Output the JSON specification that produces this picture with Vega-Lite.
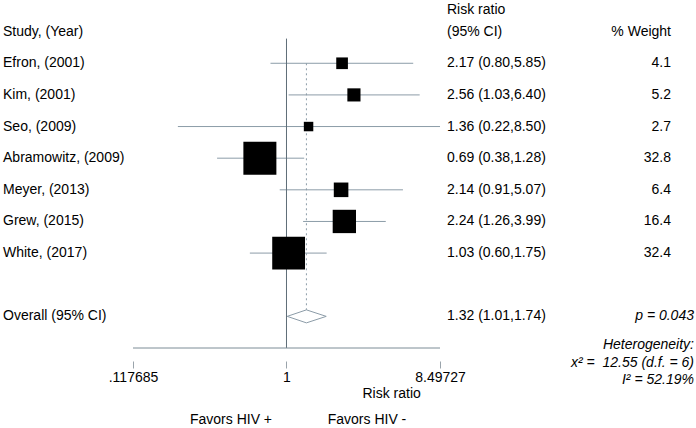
{
  "$schema": "https://vega.github.io/schema/vega-lite/v6.json",
  "width": 307,
  "height": 348,
  "autosize": {"type": "none"},
  "padding": {"left": 133, "top": 0, "right": 256, "bottom": 80},
  "background": "white",
  "data": {"values": [{}]},
  "config": {
    "view": {"stroke": null},
    "font": "Liberation Sans",
    "text": {"font": "Liberation Sans", "fontSize": 14, "color": "#000000", "baseline": "middle"}
  },
  "datasets": {
    "studies": [
      {"row": 1, "study": "Efron, (2001)", "rr": 2.17, "lo": 0.80, "hi": 5.85, "ci": "2.17 (0.80,5.85)", "weight": 4.1},
      {"row": 2, "study": "Kim, (2001)", "rr": 2.56, "lo": 1.03, "hi": 6.40, "ci": "2.56 (1.03,6.40)", "weight": 5.2},
      {"row": 3, "study": "Seo, (2009)", "rr": 1.36, "lo": 0.22, "hi": 8.50, "ci": "1.36 (0.22,8.50)", "weight": 2.7},
      {"row": 4, "study": "Abramowitz, (2009)", "rr": 0.69, "lo": 0.38, "hi": 1.28, "ci": "0.69 (0.38,1.28)", "weight": 32.8},
      {"row": 5, "study": "Meyer, (2013)", "rr": 2.14, "lo": 0.91, "hi": 5.07, "ci": "2.14 (0.91,5.07)", "weight": 6.4},
      {"row": 6, "study": "Grew, (2015)", "rr": 2.24, "lo": 1.26, "hi": 3.99, "ci": "2.24 (1.26,3.99)", "weight": 16.4},
      {"row": 7, "study": "White, (2017)", "rr": 1.03, "lo": 0.60, "hi": 1.75, "ci": "1.03 (0.60,1.75)", "weight": 32.4}
    ],
    "overall": [
      {"row": 9, "study": "Overall (95% CI)", "rr": 1.32, "lo": 1.01, "hi": 1.74, "ci": "1.32 (1.01,1.74)"}
    ],
    "diamond": [
      {"i": 0, "x": 1.01, "v": 0},
      {"i": 1, "x": 1.32, "v": -1},
      {"i": 2, "x": 1.74, "v": 0},
      {"i": 3, "x": 1.32, "v": 1},
      {"i": 4, "x": 1.01, "v": 0}
    ]
  },
  "layer": [
    {
      "data": {"name": "studies"},
      "mark": {"type": "rule", "color": "#8c9ca8", "strokeWidth": 1},
      "encoding": {
        "x": {
          "field": "lo", "type": "quantitative",
          "scale": {"type": "log", "domain": [0.117685, 8.49727], "nice": false},
          "axis": {
            "orient": "bottom", "offset": 13, "domain": false, "grid": false,
            "values": [0.117685, 1, 8.49727],
            "labelExpr": "datum.value < 0.5 ? '.117685' : (datum.value > 2 ? '8.49727' : '1')",
            "labelFlush": false, "labelOverlap": false,
            "tickSize": 7, "tickColor": "#9aa4ab", "tickWidth": 1,
            "labelFont": "Liberation Sans", "labelFontSize": 14, "labelColor": "#000000", "labelPadding": 2,
            "title": "Risk ratio", "titleFont": "Liberation Sans", "titleFontSize": 14, "titleFontWeight": "normal",
            "titleColor": "#000000", "titleAlign": "left", "titleBaseline": "middle", "titleX": 229, "titleY": 32
          }
        },
        "x2": {"field": "hi"},
        "y": {"field": "row", "type": "quantitative", "scale": {"domain": [-1, 10], "reverse": true, "nice": false, "zero": false}, "axis": null}
      }
    },
    {
      "mark": {"type": "rule", "color": "#5f6e78", "strokeWidth": 1},
      "encoding": {"x": {"datum": 1}, "y": {"datum": 0.22}, "y2": {"datum": 10}}
    },
    {
      "mark": {"type": "rule", "color": "#7d8c96", "strokeWidth": 1},
      "encoding": {"x": {"datum": 0.117685}, "x2": {"datum": 8.49727}, "y": {"datum": 10}}
    },
    {
      "data": {"name": "overall"},
      "mark": {"type": "rule", "color": "#8c9ca8", "strokeWidth": 1, "strokeDash": [2, 3]},
      "encoding": {"x": {"field": "rr", "type": "quantitative"}, "y": {"datum": 1}, "y2": {"datum": 9}}
    },
    {
      "data": {"name": "studies"},
      "mark": {"type": "point", "shape": "square", "filled": true, "color": "#000000", "opacity": 1, "strokeWidth": 0},
      "encoding": {
        "x": {"field": "rr", "type": "quantitative"},
        "y": {"field": "row", "type": "quantitative"},
        "size": {"field": "weight", "type": "quantitative", "scale": {"type": "linear", "domain": [0, 32.8], "range": [0, 1089]}, "legend": null}
      }
    },
    {
      "data": {"name": "diamond"},
      "mark": {"type": "line", "color": "#8c9ca8", "strokeWidth": 1, "fill": "white"},
      "encoding": {
        "x": {"field": "x", "type": "quantitative"},
        "y": {"datum": 9},
        "yOffset": {"field": "v", "type": "quantitative", "scale": {"type": "linear", "domain": [-1, 1], "range": [-6.5, 6.5]}},
        "order": {"field": "i", "type": "quantitative"}
      }
    },
    {
      "data": {"name": "studies"},
      "mark": {"type": "text", "align": "left"},
      "encoding": {"x": {"datum": 0.01922}, "y": {"field": "row", "type": "quantitative"}, "text": {"field": "study"}}
    },
    {
      "data": {"name": "overall"},
      "mark": {"type": "text", "align": "left"},
      "encoding": {"x": {"datum": 0.01922}, "y": {"field": "row", "type": "quantitative"}, "text": {"field": "study"}}
    },
    {
      "data": {"name": "studies"},
      "mark": {"type": "text", "align": "left"},
      "encoding": {"x": {"datum": 9.367}, "y": {"field": "row", "type": "quantitative"}, "text": {"field": "ci"}}
    },
    {
      "data": {"name": "overall"},
      "mark": {"type": "text", "align": "left"},
      "encoding": {"x": {"datum": 9.367}, "y": {"field": "row", "type": "quantitative"}, "text": {"field": "ci"}}
    },
    {
      "data": {"name": "studies"},
      "mark": {"type": "text", "align": "right"},
      "encoding": {"x": {"datum": 212.7}, "y": {"field": "row", "type": "quantitative"}, "text": {"field": "weight", "type": "quantitative", "format": ".1f"}}
    },
    {
      "mark": {"type": "text", "align": "left"},
      "encoding": {"x": {"datum": 0.01922}, "y": {"datum": 0}, "text": {"value": "Study, (Year)"}}
    },
    {
      "mark": {"type": "text", "align": "left"},
      "encoding": {"x": {"datum": 9.367}, "y": {"datum": -0.68}, "text": {"value": "Risk ratio"}}
    },
    {
      "mark": {"type": "text", "align": "left"},
      "encoding": {"x": {"datum": 9.367}, "y": {"datum": 0}, "text": {"value": "(95% CI)"}}
    },
    {
      "mark": {"type": "text", "align": "right"},
      "encoding": {"x": {"datum": 212.7}, "y": {"datum": 0}, "text": {"value": "% Weight"}}
    },
    {
      "mark": {"type": "text", "align": "right", "fontStyle": "italic"},
      "encoding": {"x": {"datum": 293}, "y": {"datum": 9}, "text": {"value": "p = 0.043"}}
    },
    {
      "mark": {"type": "text", "align": "right", "fontStyle": "italic"},
      "encoding": {"x": {"datum": 293}, "y": {"datum": 9.905}, "text": {"value": "Heterogeneity:"}}
    },
    {
      "mark": {"type": "text", "align": "right", "fontStyle": "italic"},
      "encoding": {"x": {"datum": 293}, "y": {"datum": 10.475}, "text": {"value": "x² =\u00a0 12.55 (d.f. = 6)"}}
    },
    {
      "mark": {"type": "text", "align": "right", "fontStyle": "italic"},
      "encoding": {"x": {"datum": 293}, "y": {"datum": 11.01}, "text": {"value": "I² = 52.19%"}}
    },
    {
      "mark": {"type": "text", "align": "center"},
      "encoding": {"x": {"datum": 0.4613}, "y": {"datum": 12.276}, "text": {"value": "Favors HIV +"}}
    },
    {
      "mark": {"type": "text", "align": "center"},
      "encoding": {"x": {"datum": 3.071}, "y": {"datum": 12.276}, "text": {"value": "Favors HIV -"}}
    }
  ]
}
